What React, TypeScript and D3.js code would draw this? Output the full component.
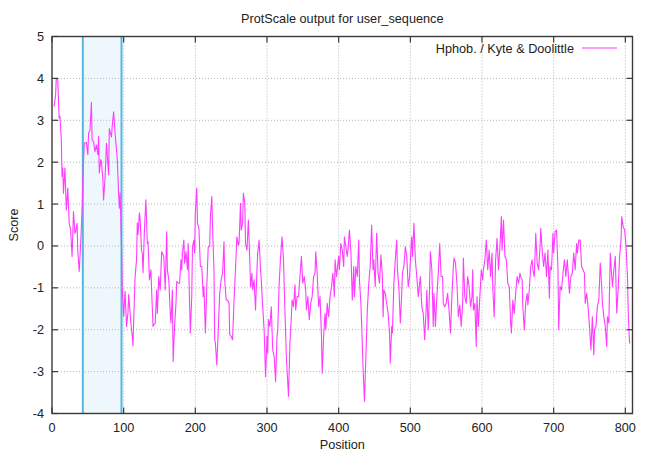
import React from 'react';
import * as d3 from 'd3';

const title = 'ProtScale output for user_sequence';
const xLabel = 'Position';
const yLabel = 'Score';
const legendLabel = 'Hphob. / Kyte & Doolittle';
const xTicks = [0, 100, 200, 300, 400, 500, 600, 700, 800];
const yTicks = [-4, -3, -2, -1, 0, 1, 2, 3, 4, 5];
const xDomain = [0, 810];
const yDomain = [-4, 5];
// shaded window (positions)
const highlight = [43, 97];

// [position, score], in stretches
const scoresA: [number, number][] = [
  [3, 3.33], [5, 3.6], [6, 4.0], [8, 3.97], [10, 3.05], [11, 3.1], [13, 2.53], [14, 1.66],
  [15, 1.86], [16, 1.26], [18, 1.86], [20, 0.86], [22, 1.38], [24, 0.54], [26, 0.38], [28, -0.25],
  [30, 0.82], [32, 0.3], [33, 0.34], [35, 0.54], [36, -0.13], [38, -0.61], [40, 0.06], [42, 0.86],
  [44, 2.06], [45, 2.45], [48, 2.47], [50, 2.18], [51, 2.69], [53, 2.77], [55, 3.43], [56, 2.53],
  [58, 2.49], [60, 2.25], [62, 2.41], [64, 2.18], [65, 2.61], [66, 1.74], [68, 2.06], [69, 2.02],
  [71, 1.58], [72, 1.1], [74, 1.62], [76, 2.45], [77, 2.2], [79, 1.7], [80, 2.8], [83, 2.6],
  [84, 2.85], [86, 3.2], [88, 2.7], [91, 2.1], [92, 1.66], [93, 1.22], [94, 0.9], [95, 1.26],
  [96, 0.7], [97, 0.0], [98, -1.0], [100, -1.68], [102, -1.08], [104, -1.92], [106, -1.6],
  [107, -1.16], [109, -1.6], [110, -1.84], [112, -2.15], [113, -2.39], [114, -1.76], [116, -0.72],
  [118, -0.33], [119, 0.55], [120, 0.27], [122, 0.79], [123, 0.63], [125, -0.13], [126, -0.17],
  [127, -0.64], [129, 0.39], [131, 1.1],
];

const scoresB: [number, number][] = [
  [133, 0.06], [134, 0.1], [136, -0.81], [138, -0.57], [139, -1.05], [141, -1.92], [142, -1.88],
  [144, -1.84], [146, -1.05], [147, -1.61], [149, -0.73], [151, -1.05], [153, -0.14], [154, -0.17],
  [156, -0.25], [158, -1.05], [160, 0.34], [161, -0.57], [163, -0.81], [165, -1.61], [166, -1.84],
  [168, -1.05], [169, -2.76], [171, -1.92], [173, -1.37], [174, -0.85], [176, -0.89], [178, -0.89],
  [180, -0.33], [181, -0.57], [182, -0.17], [184, 0.14], [185, -0.41], [187, -0.14], [189, -0.57],
  [190, 0.06], [192, -1.37], [193, -2.08], [195, -1.21], [196, -0.02], [198, 0.14], [199, -0.17],
  [200, 0.78], [202, 1.38], [203, 0.54], [205, 0.42], [207, -0.49], [209, -0.49], [211, -1.21],
  [212, -0.97], [214, -2.08], [216, -0.97], [218, -0.02], [220, -0.02], [221, 0.7], [223, 1.18],
  [224, 0.46], [226, -0.57], [227, -2.24], [228, -2.32], [230, -2.84], [232, -2.0], [234, -1.13],
  [236, -0.81], [238, -0.65], [240, 0.1], [241, -0.81], [243, -1.29], [245, -1.29], [247, -1.37],
  [248, -2.12], [250, -2.16], [252, -2.24], [254, -1.29], [256, -0.57], [258, 0.22], [260, 0.02],
  [261, 0.06],
];

const scoresC: [number, number][] = [
  [263, 1.02], [264, 0.38], [266, 0.54], [267, 1.26], [269, 1.02], [270, 0.06], [272, -0.1],
  [274, 0.62], [276, -0.33], [277, -0.97], [279, -0.65], [280, -1.05], [282, -0.81], [284, -1.53],
  [286, -0.57], [287, -0.17], [289, 0.14], [291, -0.57], [292, -0.81], [294, -1.45], [296, -2.0],
  [298, -3.12], [300, -2.16], [301, -2.56], [302, -1.76], [304, -1.92], [306, -1.45], [308, -2.48],
  [310, -2.64], [312, -3.24], [314, -2.16], [315, -2.0], [317, -0.89], [319, -0.25], [321, 0.22],
  [323, -0.33], [325, -1.53], [327, -2.64], [328, -2.96], [330, -3.59], [332, -2.32], [334, -1.69],
  [335, -1.29], [337, -1.45], [339, -0.93], [340, -1.53], [342, -1.21], [344, -1.21], [346, -0.73],
  [348, -0.25], [350, -0.89], [352, -0.73], [354, -1.05], [355, -1.53], [357, -1.21], [359, -1.76],
  [361, -1.37], [363, -1.21], [365, -0.73], [367, -0.65], [368, -0.14], [370, -0.65], [372, -1.45],
  [374, -1.21], [376, -2.16], [377, -3.04], [379, -2.16], [381, -1.61], [382, -2.0], [384, -1.37],
  [386, -1.69], [388, -1.21], [390, -0.97],
];

const scoresD: [number, number][] = [
  [392, -0.65], [394, -1.21], [395, -0.33], [397, -0.73], [399, -0.41], [400, -0.25], [401, -0.57],
  [403, 0.06], [405, -0.1], [407, -0.49], [408, 0.22], [410, -0.02], [412, -0.25], [413, -0.1],
  [415, 0.38], [417, -0.1], [419, -1.29], [421, -0.49], [422, -1.21], [424, -0.49], [426, -0.73],
  [428, 0.14], [429, -0.81], [431, -1.37], [433, -2.32], [434, -2.88], [436, -3.71], [438, -2.64],
  [440, -1.53], [442, -0.89], [444, -0.49], [446, 0.5], [448, -0.57], [449, -0.33], [451, -0.97],
  [453, 0.3], [455, -0.65], [457, -0.89], [459, -0.21], [461, -0.73], [462, -1.69], [463, -1.05],
  [465, -1.13], [467, -1.37], [469, -1.61], [471, -2.08], [472, -2.8], [474, -1.92], [475, -2.08],
  [477, -0.89], [479, -0.33], [481, 0.14], [482, -0.57], [484, -0.97], [486, -1.84], [488, -1.13],
  [489, -0.65], [491, -0.49], [493, -0.02], [495, -0.25], [497, -0.97], [499, -0.73], [501, -0.02],
  [502, 0.22], [503, -0.25], [505, 0.54], [507, -0.33], [509, -0.73], [511, -1.21], [513, -0.89],
  [514, -0.73], [516, -1.45], [518, -1.61], [520, -2.24], [522, -1.53],
];

const scoresE: [number, number][] = [
  [523, -1.05], [525, -2.0], [526, -1.53], [528, -0.14], [530, -0.57], [532, -1.92], [533, -1.13],
  [535, -1.92], [537, -1.21], [539, -0.65], [541, 0.06], [543, -0.73], [545, -0.73], [546, -1.37],
  [548, -1.45], [550, -1.37], [552, -1.13], [554, -1.53], [556, -2.08], [558, -1.21], [560, -0.49],
  [561, -0.29], [563, -0.41], [565, -0.89], [567, -1.69], [569, -1.41], [571, -1.92], [573, -1.37],
  [574, -0.29], [576, -1.21], [578, -1.37], [580, -0.73], [582, -0.97], [584, -1.45], [586, -1.21],
  [587, -0.57], [588, -1.53], [590, -1.37], [592, -2.4], [593, -1.21], [595, -1.92], [597, -1.21],
  [599, -0.57], [601, -0.81], [602, -0.57], [604, -0.33], [606, 0.14], [608, -0.57], [610, -0.1],
  [612, -0.73], [614, -0.17], [615, -0.97], [617, -1.69], [619, -0.33], [621, 0.18], [623, -0.57],
  [625, -0.02], [627, 0.7], [628, -0.1], [630, 0.62], [632, -0.25], [634, -0.33], [636, -0.89],
  [638, -0.97], [640, -1.84], [641, -2.08], [643, -1.29], [645, -1.61], [647, -1.13], [649, -0.73],
  [651, -0.89], [653, -0.65],
];

const scoresF: [number, number][] = [
  [654, -0.73], [656, -0.81], [657, -1.45], [659, -2.0], [661, -1.37], [663, -1.13], [664, -1.41],
  [666, -1.05], [668, -0.49], [670, -0.33], [671, -0.57], [673, -0.73], [675, 0.3], [677, -0.41],
  [679, -0.57], [681, -0.02], [682, 0.42], [684, -0.1], [686, -0.49], [688, -0.17], [690, -0.73],
  [692, -0.1], [694, -1.25], [695, -0.49], [697, -0.57], [699, 0.3], [700, -0.17], [702, 0.34],
  [704, 0.38], [706, -0.57], [707, -2.0], [709, -0.97], [711, -1.05], [713, -0.65], [715, -0.33],
  [717, -0.73], [719, -0.33], [720, -0.57], [722, -1.13], [724, -0.73], [726, -0.65], [728, -0.17],
  [730, -0.57], [732, 0.06], [733, -0.17], [735, 0.14], [737, 0.14], [739, -0.49], [741, -0.57],
  [743, -0.65], [744, -1.37], [746, -1.13], [748, -1.45], [750, -1.92], [752, -2.48], [754, -1.69],
  [756, -2.6], [757, -2.0], [759, -1.92], [761, -1.45], [763, -1.29], [765, -0.41], [767, -0.97],
  [768, -1.37], [770, -1.69], [772, -1.92], [774, -2.4], [775, -1.69], [777, -1.84], [779, -0.17],
  [781, -0.73], [782, -0.97], [784, -0.57], [786, -0.25], [788, -1.6], [790, -1.05], [792, -0.25],
  [794, 0.14], [795, 0.7], [797, 0.46], [799, 0.38], [801, -0.02], [803, -0.73], [804, -1.53],
  [805, -2.0], [806, -2.33],
];

const trace = [...scoresA, ...scoresB, ...scoresC, ...scoresD, ...scoresE, ...scoresF];

const width = 649;
const height = 454;
const left = 52;
const right = 632.5;
const top = 36.5;
const bottom = 413.5;
const font = '"Liberation Sans", Arial, sans-serif';
const fs = 12.7;

export default function App() {
  const x = d3.scaleLinear().domain(xDomain).range([left, right]);
  const y = d3.scaleLinear().domain(yDomain).range([bottom, top]);
  const line = d3.line<[number, number]>()
    .x((d) => x(d[0]))
    .y((d) => y(d[1]));

  const axisColor = '#3a3a3a';
  const gridColor = '#b4b4b4';
  const tickLen = 6;

  return (
    <svg
      width={width}
      height={height}
      style={{ position: 'absolute', left: 0, top: 0, background: '#fff' }}
      fontFamily={font}
    >
      <rect x={0} y={0} width={width} height={height} fill="#fff" />

      {/* highlighted window */}
      <rect
        x={x(highlight[0])}
        y={top}
        width={x(highlight[1]) - x(highlight[0])}
        height={bottom - top}
        fill="#eef7fb"
      />

      {/* grid */}
      {xTicks.filter((t) => t > 0).map((t) => (
        <line key={'gx' + t} x1={x(t)} x2={x(t)} y1={top} y2={bottom}
          stroke={gridColor} strokeWidth={1} strokeDasharray="1,2" />
      ))}
      {yTicks.filter((t) => t > yDomain[0] && t < yDomain[1]).map((t) => (
        <line key={'gy' + t} x1={left} x2={right} y1={y(t)} y2={y(t)}
          stroke={gridColor} strokeWidth={1} strokeDasharray="1,2" />
      ))}

      {highlight.map((p) => (
        <line key={'hl' + p} x1={x(p)} x2={x(p)} y1={top} y2={bottom}
          stroke="#55b6e0" strokeWidth={2} />
      ))}

      <path d={line(trace) ?? ''} fill="none" stroke="#ff3cff" strokeWidth={1.1} strokeLinejoin="round" />

      {/* frame + ticks */}
      <rect x={left} y={top} width={right - left} height={bottom - top}
        fill="none" stroke={axisColor} strokeWidth={1.4} />
      {xTicks.map((t) => (
        <g key={'tx' + t}>
          <line x1={x(t)} x2={x(t)} y1={bottom} y2={bottom - tickLen} stroke={axisColor} strokeWidth={1.2} />
          <line x1={x(t)} x2={x(t)} y1={top} y2={top + tickLen} stroke={axisColor} strokeWidth={1.2} />
          <text x={x(t)} y={bottom + 18} textAnchor="middle" fontSize={fs} fill="#222">{t}</text>
        </g>
      ))}
      {yTicks.map((t) => (
        <g key={'ty' + t}>
          <line x1={left} x2={left + tickLen} y1={y(t)} y2={y(t)} stroke={axisColor} strokeWidth={1.2} />
          <line x1={right} x2={right - tickLen} y1={y(t)} y2={y(t)} stroke={axisColor} strokeWidth={1.2} />
          <text x={left - 8} y={y(t) + 4.5} textAnchor="end" fontSize={fs} fill="#222">{t}</text>
        </g>
      ))}

      {/* legend */}
      <text x={574} y={52.5} textAnchor="end" fontSize={fs} fill="#222">{legendLabel}</text>
      <line x1={582} x2={617} y1={48} y2={48} stroke="#ff3cff" strokeWidth={1.1} />

      {/* labels */}
      <text x={(left + right) / 2} y={22.5} textAnchor="middle" fontSize={fs} fill="#222">{title}</text>
      <text x={(left + right) / 2} y={449} textAnchor="middle" fontSize={fs} fill="#222">{xLabel}</text>
      <text transform={`translate(18,${(top + bottom) / 2}) rotate(-90)`} textAnchor="middle"
        fontSize={fs} fill="#222">{yLabel}</text>
    </svg>
  );
}
